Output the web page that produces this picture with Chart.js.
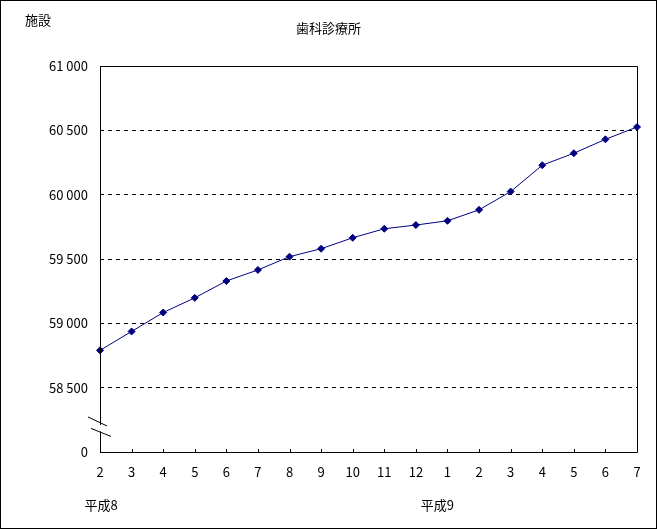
<!DOCTYPE html>
<html>
<head>
<meta charset="utf-8">
<script src="https://cdn.jsdelivr.net/npm/chart.js@4"></script>
<style>
  body { margin: 0; background: #fff; }
  #wrap { width: 657px; height: 529px; }
</style>
</head>
<body>
<div id="wrap"><canvas id="dental-chart"></canvas></div>
<script>
const months = ["2", "3", "4", "5", "6", "7", "8", "9", "10", "11", "12", "1", "2", "3", "4", "5", "6", "7"];
const facilities = [58790, 58937, 59084, 59198, 59329, 59415, 59518, 59580, 59665, 59735, 59764, 59797, 59882, 60024, 60229, 60322, 60430, 60526];
const yearLabels = [{ index: 0, text: "平成8", shift: 1 }, { index: 11, text: "平成9", shift: -10 }];
const titleText = "歯科診療所";
const unitText = "施設";

const font = "'Noto Sans CJK JP', 'DejaVu Sans', sans-serif";
const navy = "#000080";

function formatTick(value) {
  if (value === 58000) return "0";
  const s = String(value);
  return s.slice(0, s.length - 3) + " " + s.slice(-3);
}

const decorations = {
  id: "decorations",
  afterDraw(chart) {
    const ctx = chart.ctx;
    const { left, right, top, bottom } = chart.chartArea;
    const x = chart.scales.x;
    const y = chart.scales.y;
    ctx.save();
    // outer frame
    ctx.strokeStyle = "#000";
    ctx.lineWidth = 1;
    ctx.strokeRect(0.5, 0.5, chart.width - 1, chart.height - 1);
    // plot box
    ctx.beginPath();
    ctx.moveTo(left + 0.5, top + 0.5);
    ctx.lineTo(right + 0.5, top + 0.5);
    ctx.lineTo(right + 0.5, bottom + 0.5);
    ctx.lineTo(left + 0.5, bottom + 0.5);
    ctx.stroke();
    // left axis with a break
    const gapTop = y.getPixelForValue(58210);
    const gapBottom = y.getPixelForValue(58160);
    ctx.beginPath();
    ctx.moveTo(left + 0.5, top);
    ctx.lineTo(left + 0.5, gapTop);
    ctx.moveTo(left + 0.5, gapBottom);
    ctx.lineTo(left + 0.5, bottom + 1);
    ctx.stroke();
    ctx.beginPath();
    ctx.moveTo(left - 12, gapTop - 8);
    ctx.lineTo(left + 7, gapTop + 1);
    ctx.moveTo(left - 9, gapBottom - 3);
    ctx.lineTo(left + 11, gapBottom + 5);
    ctx.stroke();
    // inner tick marks on the category axis
    ctx.beginPath();
    x.ticks.forEach((t, i) => {
      const px = Math.round(x.getPixelForTick(i)) + 0.5;
      ctx.moveTo(px, bottom);
      ctx.lineTo(px, bottom - 3);
    });
    ctx.stroke();
    // texts
    ctx.fillStyle = "#000";
    ctx.font = "13px " + font;
    ctx.textBaseline = "middle";
    ctx.textAlign = "left";
    ctx.fillText(unitText, 25, 20);
    ctx.textAlign = "center";
    ctx.fillText(titleText, chart.width / 2, 28);
    yearLabels.forEach((l) => {
      ctx.fillText(l.text, x.getPixelForValue(l.index) + l.shift, 505);
    });
    ctx.restore();
  }
};

new Chart(document.querySelector("#dental-chart").getContext("2d"), {
  type: "line",
  data: {
    labels: months,
    datasets: [{
      data: facilities,
      borderColor: navy,
      backgroundColor: navy,
      borderWidth: 1,
      pointStyle: "rectRot",
      pointRadius: 3.5,
      pointHoverRadius: 3.5,
      tension: 0
    }]
  },
  options: {
    responsive: true,
    maintainAspectRatio: false,
    animation: false,
    events: [],
    layout: { padding: { top: 66, right: 20, left: 0, bottom: 0 } },
    plugins: { legend: { display: false }, tooltip: { enabled: false } },
    scales: {
      x: {
        type: "category",
        offset: false,
        border: { display: false },
        grid: { display: false, drawTicks: false },
        ticks: { color: "#000", font: { family: font, size: 13 }, padding: 12, maxRotation: 0, autoSkip: false },
        afterFit: (scale) => { scale.height = 77; }
      },
      y: {
        min: 58000,
        max: 61000,
        border: { display: false, dash: [4, 4] },
        grid: {
          drawTicks: false,
          color: (c) => (c.tick.value === 58000 || c.tick.value === 61000 ? "rgba(0,0,0,0)" : "#000"),
          lineWidth: 1
        },
        ticks: {
          stepSize: 500,
          color: "#000",
          font: { family: font, size: 13 },
          padding: 12,
          callback: (v) => formatTick(v)
        },
        afterFit: (scale) => { scale.width = 100; }
      }
    }
  },
  plugins: [decorations]
});
</script>
</body>
</html>
